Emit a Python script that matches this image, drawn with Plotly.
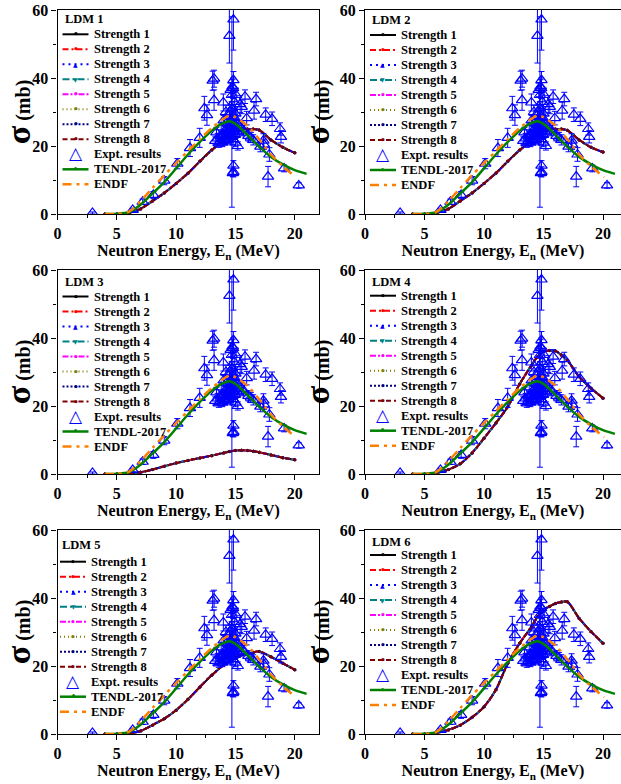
import plotly.graph_objects as go

# ---------------- data ----------------
E_model = [4, 5, 6, 7, 8, 9, 10, 11, 12, 13, 14, 14.5, 15, 15.5, 16, 16.5, 17, 18, 19, 20]
ldm1 = [0, 0, 0.3, 1.5, 3.8, 6.2, 9.0, 12.0, 15.5, 18.8, 21.5, 23.0, 24.5, 25.0, 25.0, 25.0, 24.7, 21.8, 19.6, 18.0]
ldm2 = [0, 0, 0.3, 1.5, 3.8, 6.2, 9.0, 12.0, 15.5, 18.8, 21.5, 23.0, 24.5, 25.0, 25.0, 25.0, 24.6, 21.8, 19.6, 18.2]
ldm3 = [0, 0, 0.1, 0.5, 1.3, 2.3, 3.2, 4.0, 4.7, 5.4, 6.2, 6.6, 6.9, 7.0, 6.9, 6.7, 6.4, 5.6, 4.8, 4.2]
ldm4 = [0, 0, 0.3, 1.3, 3.0, 6.2, 10.5, 15.0, 19.8, 26.5, 32.0, 34.5, 36.0, 36.3, 36.2, 35.0, 33.5, 28.6, 25.2, 22.3]
ldm5 = [0, 0, 0.2, 0.9, 2.6, 4.5, 7.0, 10.2, 13.8, 17.3, 20.3, 21.5, 22.6, 23.2, 23.5, 24.0, 24.3, 22.7, 20.8, 18.9]
ldm6 = [0, 0, 0.3, 1.2, 2.6, 4.9, 8.0, 13.0, 20.8, 26.7, 31.6, 34.5, 36.5, 37.5, 38.4, 38.8, 38.9, 34.0, 30.1, 26.7]
ldm_curves = [ldm1, ldm2, ldm3, ldm4, ldm5, ldm6]
ldm_titles = ["LDM 1", "LDM 2", "LDM 3", "LDM 4", "LDM 5", "LDM 6"]
strength_names = ["Strength 1", "Strength 2", "Strength 3", "Strength 4",
                  "Strength 5", "Strength 6", "Strength 7", "Strength 8"]

E_tendl = [4, 5, 6, 7, 8, 9, 10, 11, 12, 13, 14, 14.5, 15, 16, 17, 18, 19, 20, 21]
tendl = [0, 0.05, 0.5, 2.7, 6.0, 9.4, 13.4, 17.5, 21.2, 24.5, 26.8, 27.3, 26.5, 23.3, 19.8, 16.8, 14.6, 12.9, 11.8]

E_endf = [4, 5, 6, 7, 8, 9, 10, 11, 12, 13, 14, 14.5, 15, 16, 17, 18, 19, 20.1]
endf = [0, 0.05, 0.6, 3.8, 7.6, 11.4, 15.0, 18.5, 22.0, 25.3, 28.0, 29.0, 28.5, 26.0, 22.0, 17.5, 14.0, 10.8]

exp_E = [2.95, 6.34, 7.18, 8.08, 9.0, 10.1, 11.17, 11.99, 12.38, 12.6,
         13.08, 13.2, 13.2, 13.98, 14.49, 14.83, 14.83, 14.8, 14.83, 14.83,
         14.78, 15.4, 15.81, 15.95, 16.57, 16.74, 17.36, 17.1, 17.55, 17.75,
         17.86, 18.09, 18.76, 18.84, 19.1, 20.34, 16.09, 16.3, 15.53, 14.7,
         13.3, 13.5, 13.6, 13.7, 13.8, 13.9, 14.0, 14.05, 14.1, 14.15,
         14.2, 14.25, 14.3, 14.35, 14.4, 14.45, 14.5, 14.5, 14.55, 14.6,
         14.6, 14.65, 14.7, 14.7, 14.75, 14.8, 14.8, 14.85, 14.9, 14.9,
         14.95, 15.0, 15.0, 15.05, 15.1, 15.2, 15.3, 15.5, 15.7, 13.4,
         13.8, 14.0, 14.2, 14.6, 14.7, 14.75, 15.0, 15.2, 16.5, 17.4]
exp_sigma = [0.3, 1.2, 3.6, 5.6, 9.8, 14.8, 19.4, 22.4, 31.1, 29.1,
             39.2, 39.8, 33.5, 32.8, 52.4, 57.2, 39.4, 37.0, 14.2, 12.4,
             12.0, 32.3, 34.5, 28.2, 30.4, 33.8, 21.6, 19.8, 29.2, 11.0,
             17.5, 28.0, 25.0, 22.7, 13.4, 8.4, 23.0, 22.5, 31.5, 30.0,
             21.5, 22.2, 20.8, 21.3, 22.8, 21.0, 23.2, 22.0, 21.6, 24.2,
             22.8, 25.2, 23.5, 21.8, 26.5, 24.5, 28.0, 22.5, 30.0, 25.5,
             23.0, 27.2, 24.0, 31.0, 26.0, 22.0, 28.5, 24.5, 33.0, 26.5,
             23.5, 29.5, 25.0, 35.0, 27.5, 24.0, 26.0, 25.0, 24.5, 24.0,
             25.5, 27.5, 30.0, 36.5, 35.0, 37.5, 21.0, 20.0, 21.8, 20.5]
exp_err = [0.3, 0.5, 0.8, 1.0, 1.2, 1.5, 2.5, 2.8, 3.5, 3.0,
           2.8, 2.5, 3.0, 2.5, 8.0, 9.0, 2.5, 3.0, 1.5, 1.5,
           1.0, 2.5, 2.0, 2.0, 2.5, 2.0, 2.0, 1.5, 2.0, 3.0,
           2.0, 2.0, 1.8, 1.8, 1.0, 0.8, 1.5, 1.5, 2.0, 28.0,
           1.2, 1.5, 1.2, 1.2, 1.5, 1.2, 1.5, 1.2, 1.2, 1.5,
           1.5, 1.5, 1.5, 1.2, 1.5, 1.5, 2.0, 1.5, 2.0, 1.5,
           1.5, 1.5, 1.5, 2.0, 1.5, 1.5, 2.0, 1.5, 2.0, 1.5,
           1.5, 2.0, 1.5, 2.0, 1.5, 1.5, 1.5, 1.5, 1.5, 1.5,
           1.5, 1.5, 2.0, 2.0, 2.0, 2.0, 1.2, 1.2, 1.5, 1.5]

# ---------------- styles ----------------
FONT = "Liberation Serif"
s_colors = ["#000000", "#ff0000", "#0000ff", "#008080", "#ff00ff", "#808000", "#000080", "#800000"]
s_dash = ["solid", "6px,3px,2px,3px", "2px,4px", "7px,3px,2px,3px",
          "6px,2px,2px,2px,2px,2px", "1px,3px", "2px,2px", "5px,3px"]
s_sym = ["circle", "circle", "triangle-up", "triangle-down", "circle", "diamond", "circle", "triangle-up"]
s_glyph = ["•", "•", "▲", "▼", "•", "•", "•", "•"]
s_glyph_size = [9, 9, 6, 6, 9, 9, 9, 9]

W, H = 621, 784
col_px = [(57.5, 319.3), (365.0, 621.0)]
row_px = [(10, 214), (270, 474), (530, 734)]
col_range = [22.07, (621 - 365.0) / 11.9]

fig = go.Figure()
layout = dict(width=W, height=H, margin=dict(l=0, r=0, t=0, b=0, autoexpand=False),
              paper_bgcolor="white", plot_bgcolor="white", showlegend=False,
              font=dict(family=FONT, size=16, color="black", weight="bold"))
shapes = []
annotations = []

leg_title_off = [9, 10, 12, 11.7, 15, 11.7]
leg_row0_off = [24.3, 25, 26.5, 25.7, 31.7, 25]
leg_dx = [0, 0, 0, 0, -2.5, 0]
row_sp = 15.0

for k in range(6):
    r, c = k // 2, k % 2
    n = k + 1
    xs = "x" if n == 1 else f"x{n}"
    ys = "y" if n == 1 else f"y{n}"
    xl = "xaxis" if n == 1 else f"xaxis{n}"
    yl = "yaxis" if n == 1 else f"yaxis{n}"
    x0p, x1p = col_px[c]
    y0p, y1p = row_px[r]
    pw = x1p - x0p
    ph = y1p - y0p
    xdom = [x0p / W, min(1.0, x1p / W)]
    ydom = [1 - y1p / H, 1 - y0p / H]
    xr = [0, col_range[c]]

    curve = ldm_curves[k]
    for s in range(8):
        fig.add_trace(go.Scatter(
            x=E_model, y=curve, name=strength_names[s], mode="lines+markers",
            line=dict(color=s_colors[s], dash=s_dash[s], width=2, shape="spline", smoothing=0.8),
            marker=dict(symbol=s_sym[s], size=3, color=s_colors[s]),
            xaxis=xs, yaxis=ys, showlegend=False))
    fig.add_trace(go.Scatter(
        x=exp_E, y=exp_sigma, name="Expt. results", mode="markers",
        marker=dict(symbol="triangle-up-open", size=10, color="#0000ff", line=dict(width=1.2, color="#0000ff")),
        error_y=dict(type="data", array=exp_err, color="#0000ff", thickness=1, width=3),
        xaxis=xs, yaxis=ys, showlegend=False))
    fig.add_trace(go.Scatter(
        x=E_tendl, y=tendl, name="TENDL-2017", mode="lines",
        line=dict(color="#008000", width=2.5, shape="spline", smoothing=0.8),
        xaxis=xs, yaxis=ys, showlegend=False))
    fig.add_trace(go.Scatter(
        x=E_endf, y=endf, name="ENDF", mode="lines",
        line=dict(color="#ff8000", width=2.5, dash="9px,5px,3px,5px", shape="spline", smoothing=0.8),
        xaxis=xs, yaxis=ys, showlegend=False))

    layout[xl] = dict(domain=xdom, range=xr, anchor=ys, showline=True, linecolor="black", linewidth=1.3,
                      mirror=True, ticks="outside", ticklen=5, tickwidth=1.2, tickcolor="black",
                      tick0=0, dtick=5, showgrid=False, zeroline=False, automargin=False,
                      minor=dict(ticks="outside", dtick=2.5, ticklen=3, tickcolor="black"),
                      tickfont=dict(family=FONT, size=16, weight="bold"),
                      title=dict(text="Neutron Energy, E<sub>n</sub> (MeV)", standoff=2,
                                 font=dict(family=FONT, size=16, weight="bold")))
    layout[yl] = dict(domain=ydom, range=[0, 60], anchor=xs, showline=True, linecolor="black", linewidth=1.3,
                      mirror=(c == 0), ticks="outside", ticklen=5, tickwidth=1.2, tickcolor="black",
                      tick0=0, dtick=20, showgrid=False, zeroline=False, automargin=False,
                      minor=dict(ticks="outside", dtick=10, ticklen=3, tickcolor="black"),
                      tickfont=dict(family=FONT, size=16, weight="bold"),
                      title=dict(text="<span style='font-size:34px'>σ</span> (mb)", standoff=4,
                                 font=dict(family=FONT, size=20, weight="bold")))
    # inner ticks on top / right
    m = n + 6
    layout[f"xaxis{m}"] = dict(overlaying=xs, anchor=ys, side="top", range=xr, ticks="inside", ticklen=5,
                               tickcolor="black", tick0=0, dtick=5, showticklabels=False, showgrid=False,
                               zeroline=False, showline=False, automargin=False,
                               minor=dict(ticks="inside", dtick=2.5, ticklen=3, tickcolor="black"))
    if c == 0:
        layout[f"yaxis{m}"] = dict(overlaying=ys, anchor=xs, side="right", range=[0, 60], ticks="inside",
                                   ticklen=5, tickcolor="black", tick0=0, dtick=20, showticklabels=False,
                                   showgrid=False, zeroline=False, showline=False, automargin=False,
                                   minor=dict(ticks="inside", dtick=10, ticklen=3, tickcolor="black"))

    # legend drawn inside panel
    xref = f"{xs} domain"
    yref = f"{ys} domain"
    dx = leg_dx[k]
    annotations.append(dict(text=ldm_titles[k], xref=xref, yref=yref, x=(5 + dx) / pw,
                            y=1 - leg_title_off[k] / ph, xanchor="left", yanchor="middle", showarrow=False,
                            font=dict(family=FONT, size=12.5, weight="bold", color="black")))
    labels = strength_names + ["Expt. results", "TENDL-2017", "ENDF"]
    for i, lab in enumerate(labels):
        yy = 1 - (leg_row0_off[k] + i * row_sp) / ph
        xa, xb = (5 + dx) / pw, (31 + dx) / pw
        xm = (18 + dx) / pw
        if i < 8:
            shapes.append(dict(type="line", xref=xref, yref=yref, x0=xa, x1=xb, y0=yy, y1=yy,
                               line=dict(color=s_colors[i], width=2, dash=s_dash[i])))
            annotations.append(dict(text=s_glyph[i], xref=xref, yref=yref, x=xm, y=yy, showarrow=False,
                                    xanchor="center", yanchor="middle",
                                    font=dict(size=s_glyph_size[i], color=s_colors[i], family="DejaVu Sans")))
        elif i == 8:
            annotations.append(dict(text="△", xref=xref, yref=yref, x=xm, y=yy + 1.0 / ph, showarrow=False,
                                    xanchor="center", yanchor="middle",
                                    font=dict(size=17, color="#0000ff", family="DejaVu Sans")))
        elif i == 9:
            shapes.append(dict(type="line", xref=xref, yref=yref, x0=xa, x1=xb, y0=yy, y1=yy,
                               line=dict(color="#008000", width=2.5)))
            annotations.append(dict(text="•", xref=xref, yref=yref, x=xm, y=yy, showarrow=False,
                                    xanchor="center", yanchor="middle",
                                    font=dict(size=8, color="#008000", family="DejaVu Sans")))
        else:
            shapes.append(dict(type="line", xref=xref, yref=yref, x0=xa, x1=xb, y0=yy, y1=yy,
                               line=dict(color="#ff8000", width=2.5, dash="9px,5px,3px,5px")))
        annotations.append(dict(text=lab, xref=xref, yref=yref, x=(34 + dx) / pw, y=yy,
                                xanchor="left", yanchor="middle", showarrow=False,
                                font=dict(family=FONT, size=12.5, weight="bold", color="black")))

layout["shapes"] = shapes
layout["annotations"] = annotations
fig.update_layout(**layout)
fig.write_html("out.html")
